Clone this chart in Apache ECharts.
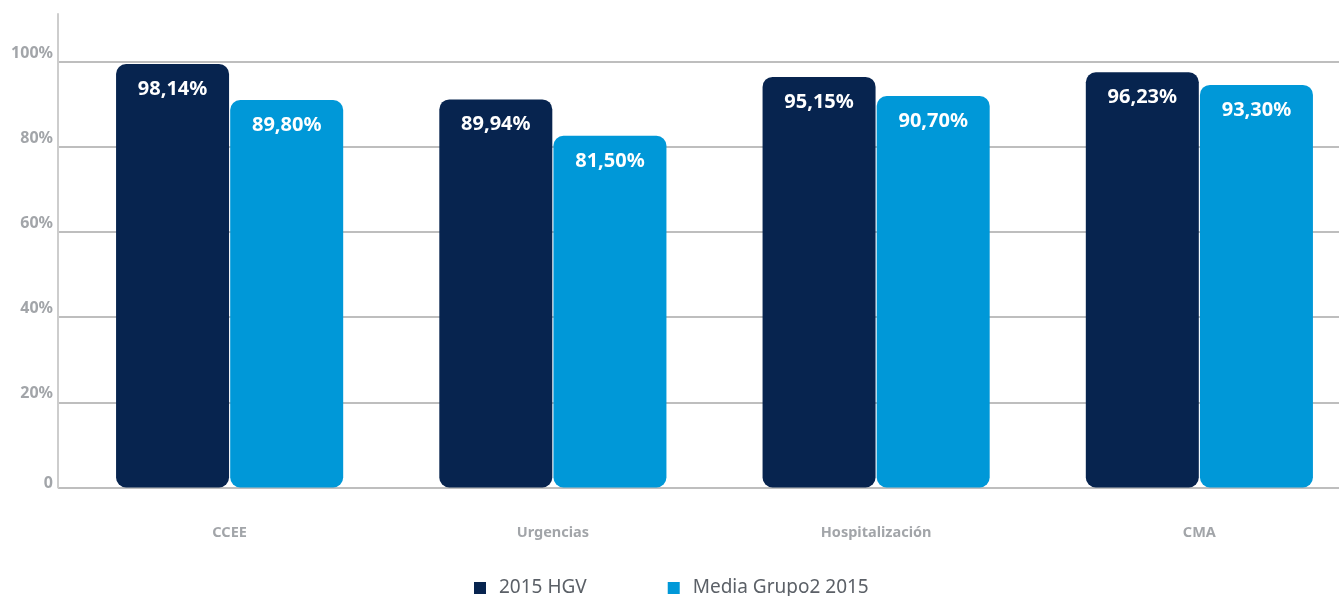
<!DOCTYPE html>
<html>
<head>
<meta charset="utf-8">
<script src="https://cdn.jsdelivr.net/npm/echarts@6/dist/echarts.min.js"></script>
<style>
html, body { margin: 0; padding: 0; background: #fff; overflow: hidden; }
#chart { width: 1361px; height: 596px; }
</style>
</head>
<body>
<div id="chart"></div>
<script>
// datos
var categories = ['CCEE', 'Urgencias', 'Hospitalización', 'CMA'];
var seriesNames = ['2015 HGV', 'Media Grupo2 2015'];
var hgv2015 = [98.14, 89.94, 95.15, 96.23];
var mediaGrupo2 = [89.80, 81.50, 90.70, 93.30];
var yTickLabels = ['0', '20%', '40%', '60%', '80%', '100%'];

var gray = '#a2a5a9';
var font = 'Noto Sans';

function pct(v) {
	return v.toFixed(2).replace('.', ',') + '%';
}

function barSeries(name, data, color) {
	return {
		name: name,
		type: 'bar',
		xAxisIndex: 0,
		yAxisIndex: 0,
		data: data,
		barWidth: 113,
		barGap: '1%',
		itemStyle: { color: color, borderRadius: 10 },
		label: {
			show: true,
			position: 'insideTop',
			distance: 14,
			color: '#fff',
			fontFamily: font,
			fontWeight: 'bold',
			fontSize: 20,
			lineHeight: 22,
			formatter: function (p) { return pct(p.value); }
		}
	};
}

var myChart = echarts.init(document.getElementById('chart'));
var option = {
	animation: false,
	color: ['#07244f', '#0098d8'],
	grid: [
		{ left: 68, right: 0, top: 14, bottom: 108.5 },
		{ left: 58, right: 0, top: 61.5, bottom: 108.5 }
	],
	legend: {
		data: seriesNames,
		left: 474,
		top: 577,
		padding: 0,
		icon: 'rect',
		itemWidth: 12,
		itemHeight: 12,
		itemGap: 81,
		textStyle: {
			color: '#5b6067',
			fontFamily: font,
			fontSize: 19,
			lineHeight: 22,
			padding: [0, 0, 0, 8]
		}
	},
	xAxis: [
		{
			type: 'category',
			gridIndex: 0,
			data: categories,
			axisLine: { show: false },
			axisTick: { show: false },
			axisLabel: {
				margin: 38,
				color: gray,
				fontFamily: font,
				fontWeight: 'bold',
				fontSize: 14.5,
				lineHeight: 14
			}
		},
		{
			type: 'category',
			gridIndex: 1,
			data: categories,
			show: false
		}
	],
	yAxis: [
		{
			// escala de las barras
			type: 'value',
			gridIndex: 0,
			min: 0,
			max: 109.73,
			offset: 10,
			axisLine: { show: true, lineStyle: { color: '#cdcdcd', width: 2 } },
			axisTick: { show: false },
			axisLabel: { show: false },
			splitLine: { show: false }
		},
		{
			type: 'value',
			gridIndex: 1,
			min: 0,
			max: 100,
			interval: 20,
			axisLine: { show: false },
			axisTick: { show: false },
			splitLine: { lineStyle: { color: '#a9a9a9', width: 1.5 } },
			axisLabel: {
				margin: 5,
				color: gray,
				fontFamily: font,
				fontWeight: 'bold',
				fontSize: 16,
				lineHeight: 17,
				verticalAlign: 'bottom',
				formatter: function (v) {
					var label = yTickLabels[Math.round(v / 20)];
					return v === 0 ? '{z|' + label + '}' : label;
				},
				rich: {
					z: { lineHeight: 8, fontSize: 16, fontWeight: 'bold', color: gray, fontFamily: font }
				}
			}
		}
	],
	series: [
		barSeries(seriesNames[0], hgv2015, '#07244f'),
		barSeries(seriesNames[1], mediaGrupo2, '#0098d8')
	]
};
myChart.setOption(option);
</script>
</body>
</html>
